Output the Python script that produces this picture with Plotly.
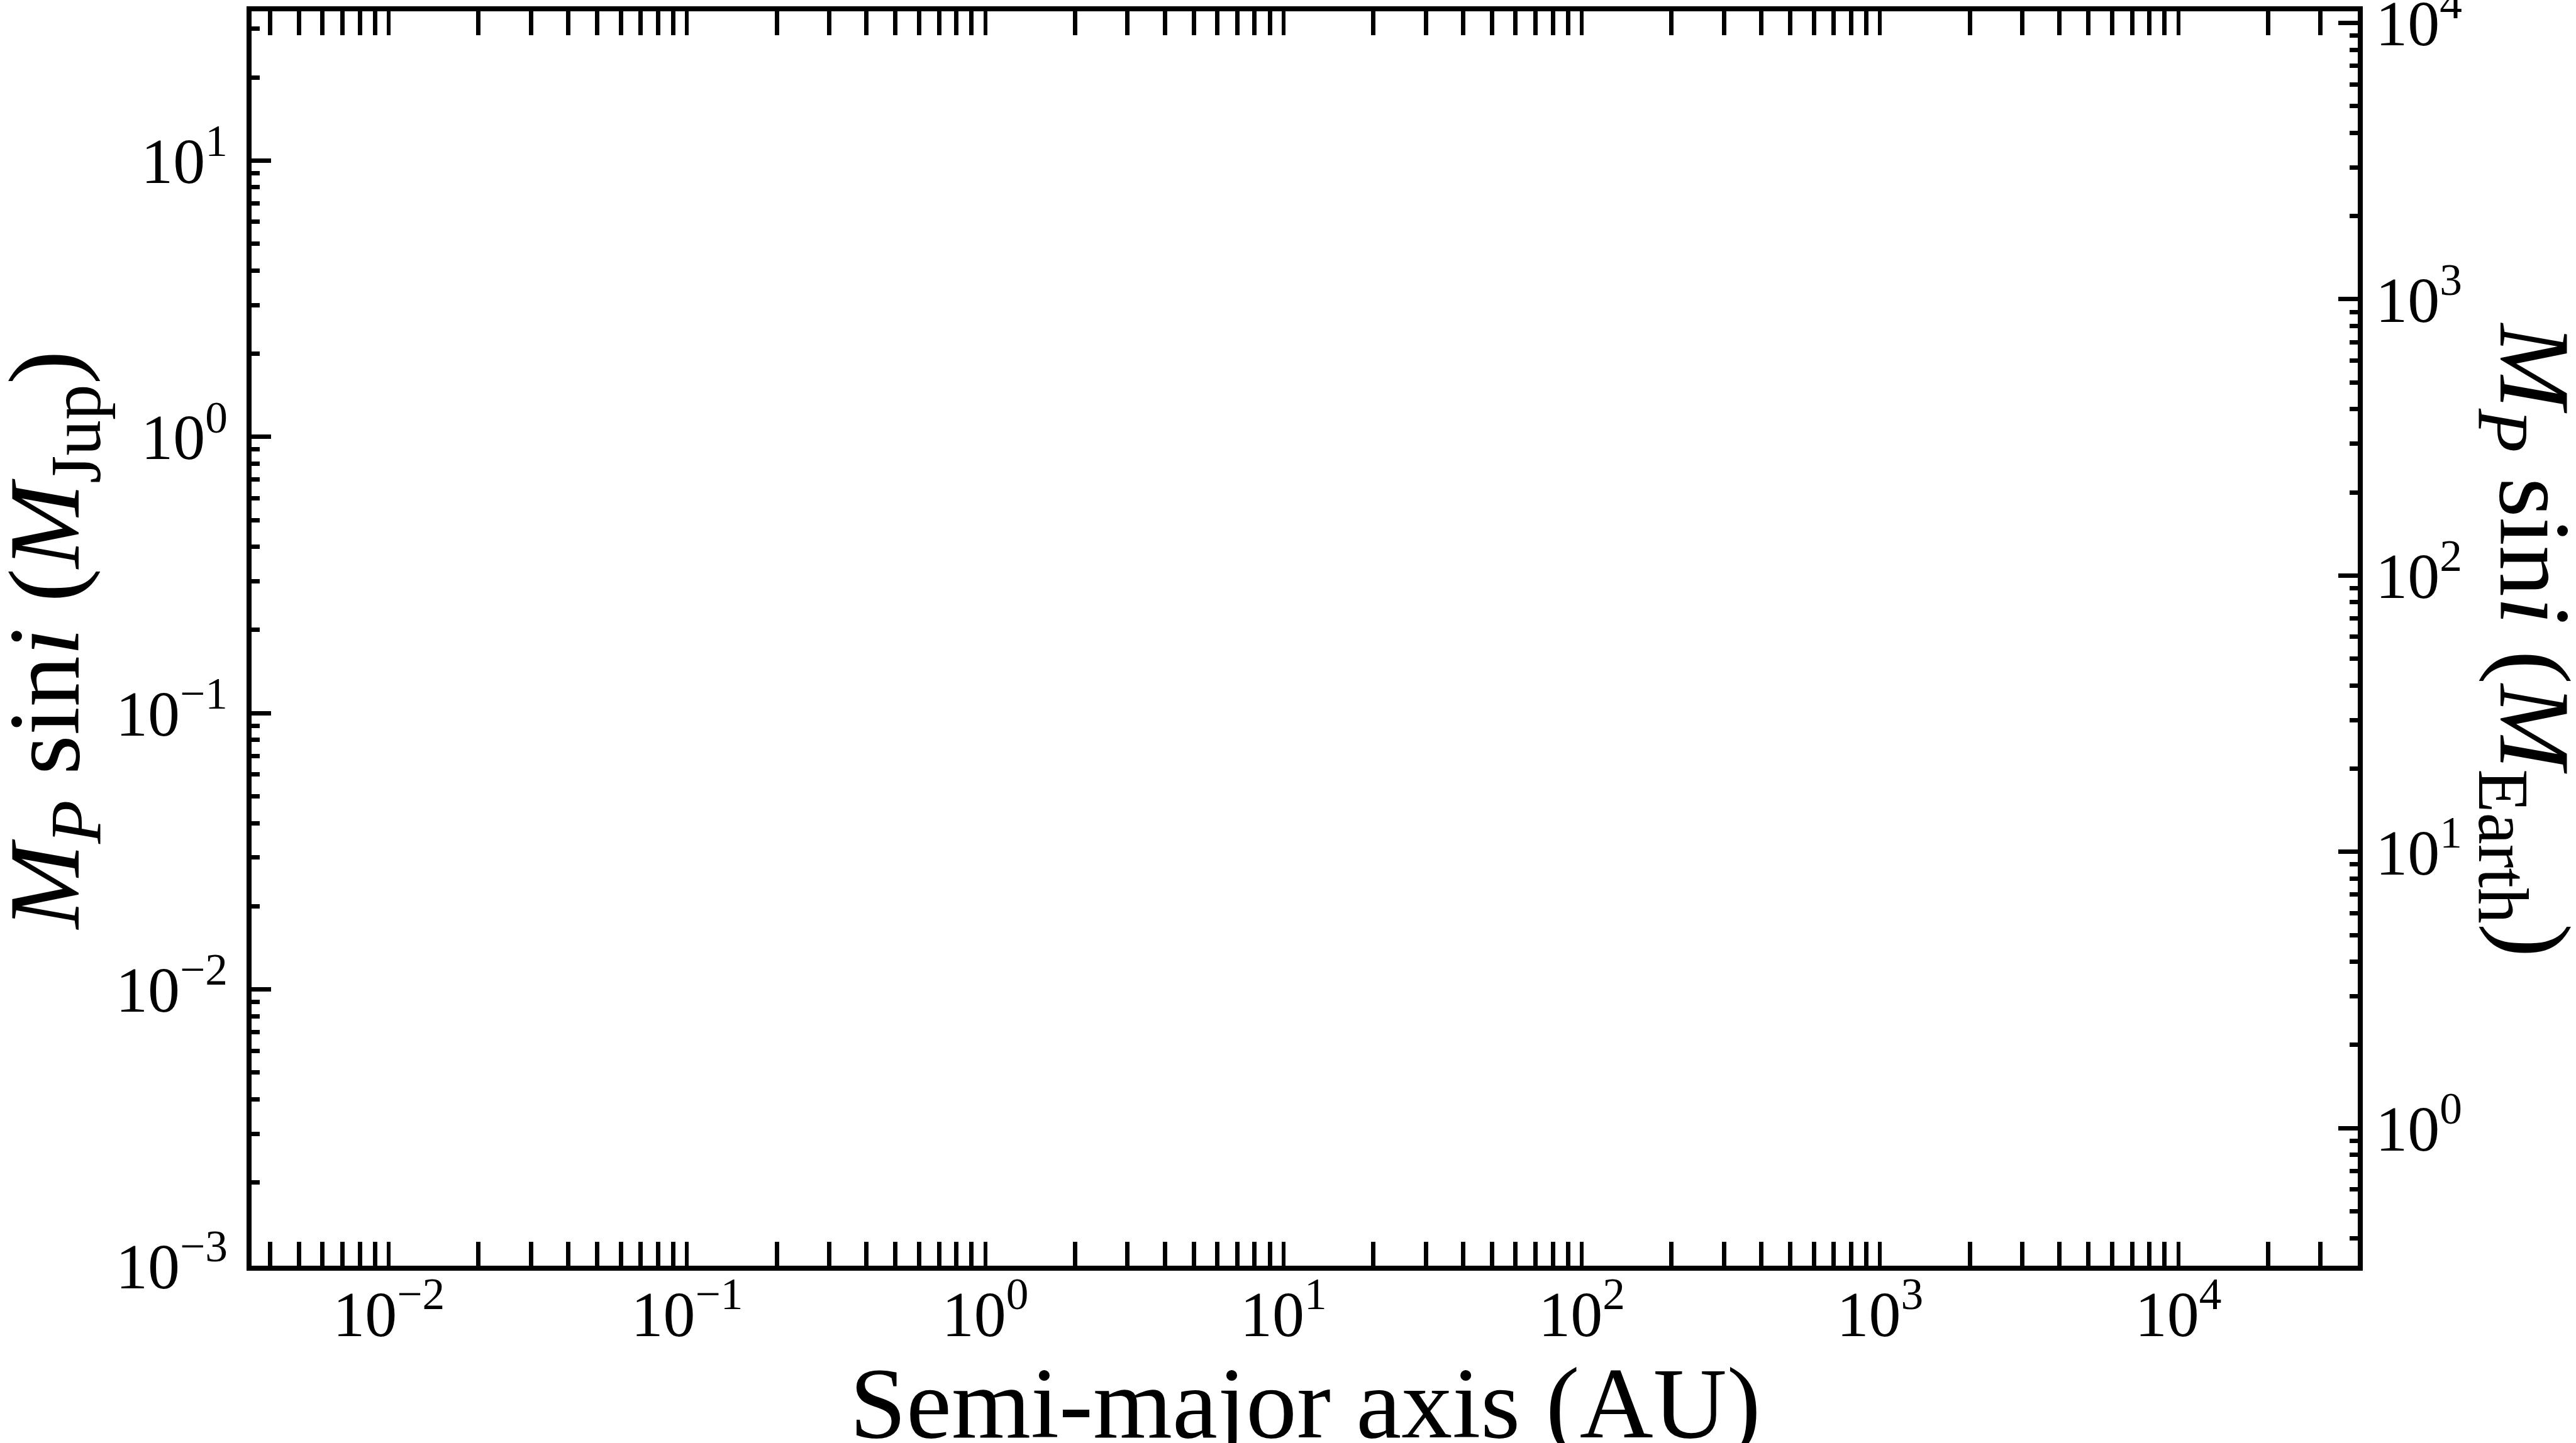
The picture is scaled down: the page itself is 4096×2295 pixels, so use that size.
import plotly.graph_objects as go

# ---- data (the reference chart contains no plotted points) ----
semi_major_axis_au = []
mass_mjup = []

MJUP_IN_MEARTH = 317.8

x_range_log = [-2.46, 4.602]
y_range_log = [-3.0, 1.54]
y2_range_log = [y_range_log[0] + 2.5022, y_range_log[1] + 2.5022]

x_major_vals = [1e-2, 1e-1, 1e0, 1e1, 1e2, 1e3, 1e4]
x_major_text = ["10<sup>−2</sup>", "10<sup>−1</sup>", "10<sup>0</sup>", "10<sup>1</sup>",
                "10<sup>2</sup>", "10<sup>3</sup>", "10<sup>4</sup>"]
y_major_vals = [1e-3, 1e-2, 1e-1, 1e0, 1e1]
y_major_text = ["10<sup>−3</sup>", "10<sup>−2</sup>", "10<sup>−1</sup>", "10<sup>0</sup>", "10<sup>1</sup>"]
y2_major_vals = [1e0, 1e1, 1e2, 1e3, 1e4]
y2_major_text = ["10<sup>0</sup>", "10<sup>1</sup>", "10<sup>2</sup>", "10<sup>3</sup>", "10<sup>4</sup>"]

def minors(lo_exp, hi_exp, lo, hi):
    out = []
    for e in range(lo_exp, hi_exp + 1):
        for m in range(2, 10):
            v = m * 10.0 ** e
            if lo < v < hi:
                out.append(v)
    return out

x_minor_vals = minors(-3, 4, 10 ** x_range_log[0], 10 ** x_range_log[1] * 0.995)
y_minor_vals = minors(-3, 1, 10 ** y_range_log[0], 10 ** y_range_log[1])
y2_minor_vals = minors(-1, 4, 10 ** y2_range_log[0], 10 ** y2_range_log[1])

FONT = "Liberation Serif"
TICK_FONT = 102
TITLE_FONT = 162
LW = 7.5

fig = go.Figure()
fig.add_trace(go.Scatter(x=semi_major_axis_au, y=mass_mjup, mode="markers",
                         showlegend=False, yaxis="y"))
fig.add_trace(go.Scatter(x=semi_major_axis_au, y=[m * MJUP_IN_MEARTH for m in mass_mjup],
                         mode="markers", showlegend=False, yaxis="y2"))

W, H = 4096, 2295
ml, mr, mt, mb = 400, 347, 18, 282

fig.update_layout(
    width=W, height=H,
    margin=dict(l=ml, r=mr, t=mt, b=mb, pad=0, autoexpand=False),
    paper_bgcolor="white", plot_bgcolor="white",
    font=dict(family=FONT, color="black", size=TICK_FONT),
    showlegend=False,
    xaxis=dict(
        type="log", range=x_range_log, automargin=False,
        showgrid=False, zeroline=False,
        showline=True, linecolor="black", linewidth=LW, mirror="allticks",
        ticks="inside", ticklen=38, tickwidth=6, tickcolor="black",
        tickvals=x_major_vals, ticktext=x_major_text, ticklabeloverflow="allow",
        ticklabelstandoff=-18,
        tickfont=dict(family=FONT, size=TICK_FONT, color="black"),
        minor=dict(ticks="inside", tickvals=x_minor_vals, ticklen=13, tickwidth=7,
                   tickcolor="black", showgrid=False),
    ),
    yaxis=dict(
        type="log", range=y_range_log, automargin=False,
        showgrid=False, zeroline=False,
        showline=True, linecolor="black", linewidth=LW, mirror=False,
        ticks="inside", ticklen=31, tickwidth=7, tickcolor="black",
        tickvals=y_major_vals, ticktext=y_major_text, ticklabeloverflow="allow",
        ticklabelstandoff=10,
        tickfont=dict(family=FONT, size=TICK_FONT, color="black"),
        minor=dict(ticks="inside", tickvals=y_minor_vals, ticklen=13, tickwidth=7,
                   tickcolor="black", showgrid=False),
    ),
    yaxis2=dict(
        type="log", range=y2_range_log, overlaying="y", side="right", anchor="x",
        automargin=False,
        showgrid=False, zeroline=False,
        showline=True, linecolor="black", linewidth=LW,
        ticks="inside", ticklen=31, tickwidth=7, tickcolor="black",
        tickvals=y2_major_vals, ticktext=y2_major_text, ticklabeloverflow="allow",
        tickfont=dict(family=FONT, size=TICK_FONT, color="black"),
        minor=dict(ticks="inside", tickvals=y2_minor_vals, ticklen=13, tickwidth=7,
                   tickcolor="black", showgrid=False),
    ),
)

ph = H - mt - mb
pw = W - ml - mr

def px_to_paper_x(px):
    return (px - ml) / pw

def px_to_paper_y(py):
    return (H - mb - py) / ph

fig.add_annotation(
    text="Semi-major axis (AU)", xref="paper", yref="paper",
    x=px_to_paper_x(2075), y=px_to_paper_y(2231), xanchor="center", yanchor="middle",
    showarrow=False, font=dict(family=FONT, size=TITLE_FONT, color="black"),
)
fig.add_annotation(
    text="<i>M</i><sub><i>P</i></sub> sin<i>i</i> (<i>M</i><sub>Jup</sub>)",
    xref="paper", yref="paper",
    x=px_to_paper_x(82), y=px_to_paper_y(1018), xanchor="center", yanchor="middle",
    textangle=-90, showarrow=False, font=dict(family=FONT, size=TITLE_FONT, color="black"),
)
fig.add_annotation(
    text="<i>M</i><sub><i>P</i></sub> sin<i>i</i> (<i>M</i><sub>Earth</sub>)",
    xref="paper", yref="paper",
    x=px_to_paper_x(4019), y=px_to_paper_y(1018), xanchor="center", yanchor="middle",
    textangle=90, showarrow=False, font=dict(family=FONT, size=TITLE_FONT, color="black"),
)

fig.write_html("out.html")
